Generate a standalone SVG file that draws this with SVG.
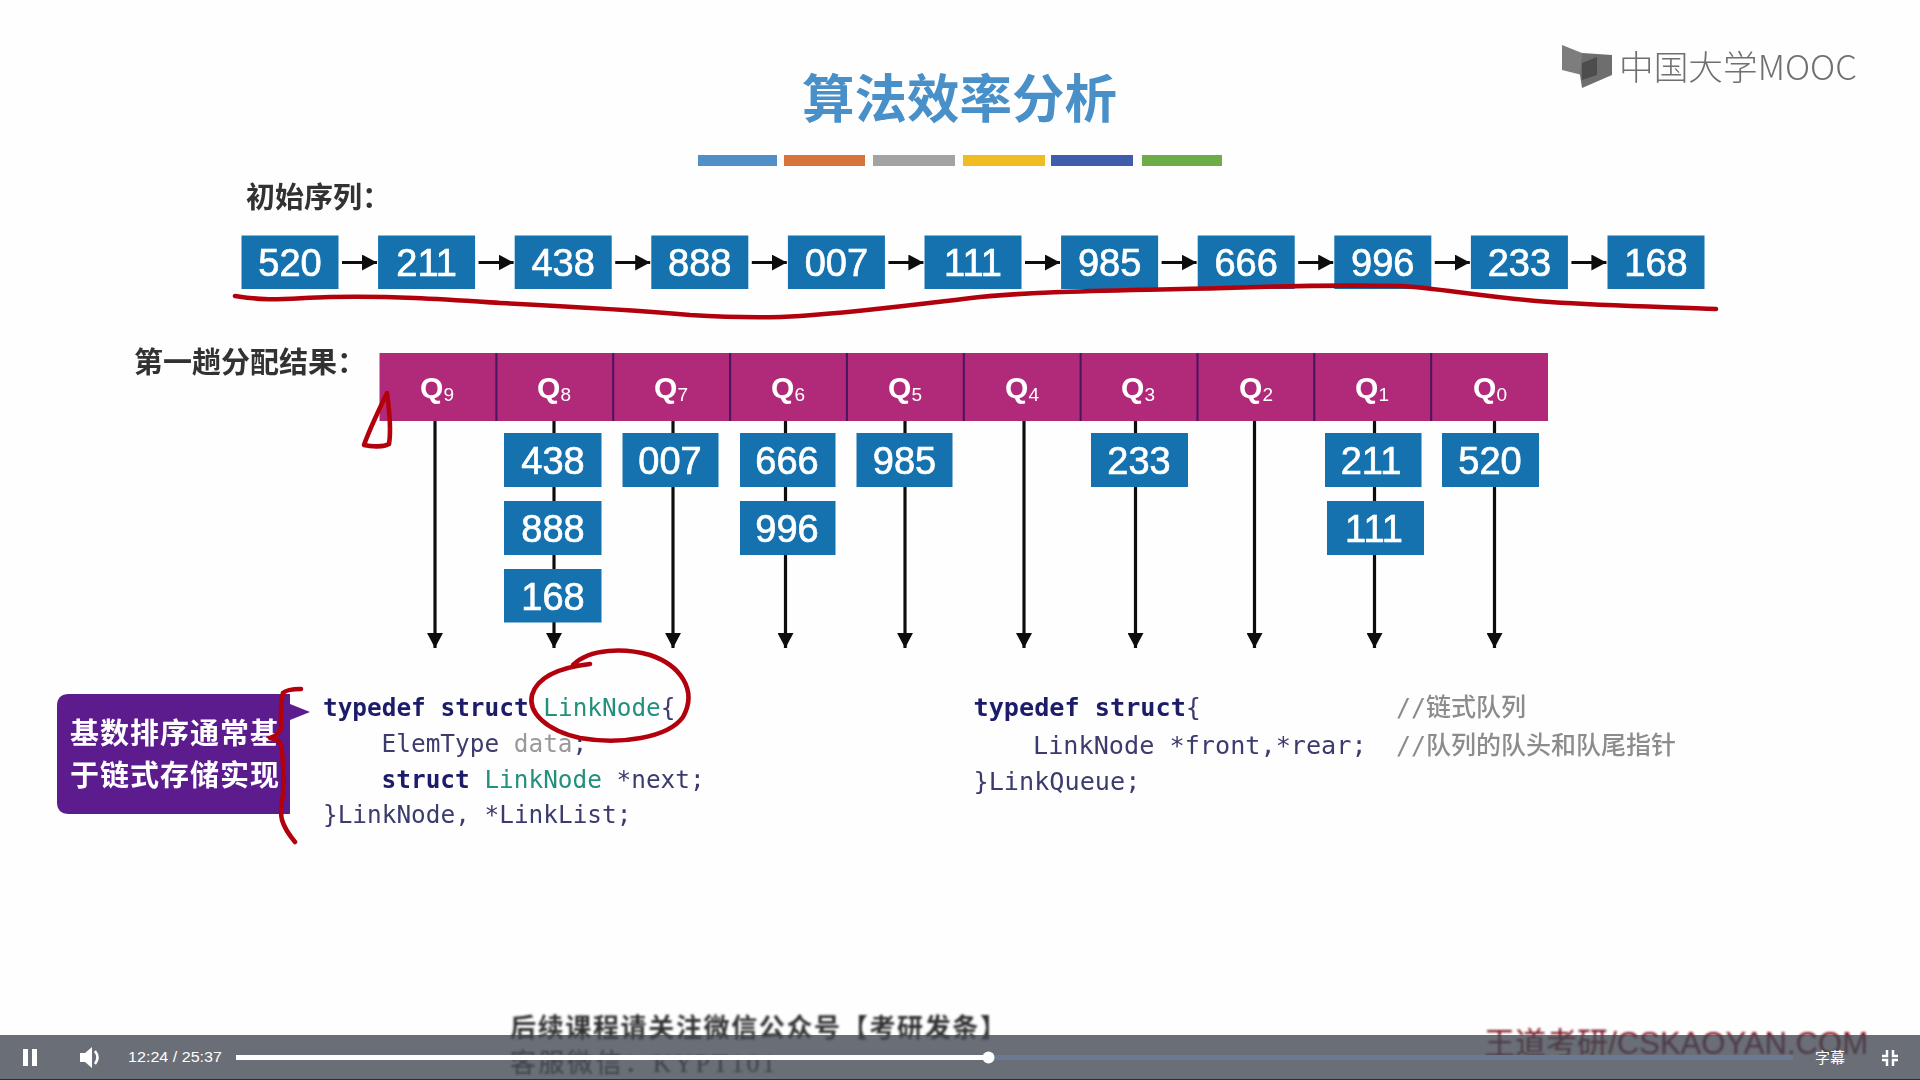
<svg xmlns="http://www.w3.org/2000/svg" width="1920" height="1080" viewBox="0 0 1920 1080">
<style>
.b{fill:#1272ae}
.bt{font:38px "Liberation Sans",Arial,sans-serif;fill:#fff;text-anchor:middle;stroke:#fff;stroke-width:.7}
.q{font:bold 30px "Liberation Sans",Arial,sans-serif;fill:#fff;text-anchor:middle}
.q tspan{font-size:19px;font-weight:normal}
.lab{font:bold 29px "Noto Sans CJK SC",sans-serif;fill:#333}
.code{font:24.4px "DejaVu Sans Mono","Noto Sans CJK SC",monospace;fill:#3b3b6e;font-weight:500}
.wide{font-size:25.200px}
.kw{font-weight:bold;fill:#1b1b6b}
.ty{fill:#22907c}
.cm{fill:#8c8c8c;font-size:25px}
.call{font:bold 29px "Noto Sans CJK SC",sans-serif;fill:#fff}
.c{stroke:#111;stroke-width:3.2;fill:none}
.ca{marker-end:url(#ah)}
.sa{marker-end:url(#sh)}
.red{fill:none;stroke:#b3000f;stroke-width:4.600;stroke-linecap:round;stroke-linejoin:round}
.ui{fill:#fff;font-family:"Liberation Sans",Arial,sans-serif}
</style>
<defs>
<filter id="bl" x="-2%" y="-2%" width="104%" height="104%"><feGaussianBlur stdDeviation="0.75"/></filter>
<filter id="bl2" x="-5%" y="-30%" width="110%" height="160%"><feGaussianBlur stdDeviation="0.9"/></filter>
<marker id="ah" markerUnits="userSpaceOnUse" markerWidth="16" markerHeight="16" refX="15" refY="8" orient="auto"><path d="M0 0L15 8L0 16Z" fill="#111"/></marker>
<marker id="sh" markerUnits="userSpaceOnUse" markerWidth="16" markerHeight="16" refX="15" refY="8" orient="auto"><path d="M0 0L15 8L0 16Z" fill="#111"/></marker>
</defs>
<rect width="1920" height="1080" fill="#fefefe"/>
<g filter="url(#bl)">
<text id="title" x="959.500" y="118" text-anchor="middle" style="font:bold 52.500px 'Noto Sans CJK SC',sans-serif;fill:#4a90c9">算法效率分析</text>
<g id="title-bars">
<rect x="698" y="155" width="79" height="11" fill="#5190c6"/>
<rect x="784" y="155" width="81" height="11" fill="#d5743a"/>
<rect x="873" y="155" width="82" height="11" fill="#a3a3a3"/>
<rect x="963" y="155" width="82" height="11" fill="#efbd22"/>
<rect x="1051" y="155" width="82" height="11" fill="#3f5dab"/>
<rect x="1142" y="155" width="80" height="11" fill="#6dac47"/>
</g>
<g id="logo">
<path d="M1562 45L1582 53V75L1562 70Z" fill="#7d7d7d"/>
<path d="M1582 53L1612 55V75L1582 88L1580 75Z" fill="#6e6e6e"/>
<path d="M1582 63L1597 57V75L1582 80Z" fill="#4d4d4d"/>
<text x="1619" y="80" style="font:300 34px 'Noto Sans CJK SC',sans-serif;fill:#707070" textLength="238" lengthAdjust="spacingAndGlyphs">中国大学MOOC</text>
</g>
<text id="label-initial" class="lab" x="246" y="208">初始序列：</text>
<text id="label-first" class="lab" x="134" y="373">第一趟分配结果：</text>

<g id="connectors">
<path class="c sa" d="M342 262.500H377"/><path class="c sa" d="M478.600 262.500H513.600"/><path class="c sa" d="M615.200 262.500H650.200"/><path class="c sa" d="M751.800 262.500H786.800"/><path class="c sa" d="M888.400 262.500H923.400"/><path class="c sa" d="M1025 262.500H1060"/><path class="c sa" d="M1161.600 262.500H1196.600"/><path class="c sa" d="M1298.200 262.500H1333.200"/><path class="c sa" d="M1434.800 262.500H1469.800"/><path class="c sa" d="M1571.400 262.500H1606.400"/>
<path class="c ca" d="M435 421V648"/><path class="c ca" d="M554 421V648"/><path class="c ca" d="M673 421V648"/><path class="c ca" d="M785.500 421V648"/><path class="c ca" d="M905 421V648"/><path class="c ca" d="M1024 421V648"/><path class="c ca" d="M1135.500 421V648"/><path class="c ca" d="M1254.500 421V648"/><path class="c ca" d="M1374.500 421V648"/><path class="c ca" d="M1494.500 421V648"/>
</g>

<g id="sequence">
<g id="s520"><rect class="b" x="241.500" y="235.500" width="97" height="53.500"/><text class="bt" x="290" y="276">520</text></g>
<g id="s211"><rect class="b" x="378.100" y="235.500" width="97" height="53.500"/><text class="bt" x="426.600" y="276">211</text></g>
<g id="s438"><rect class="b" x="514.700" y="235.500" width="97" height="53.500"/><text class="bt" x="563.200" y="276">438</text></g>
<g id="s888"><rect class="b" x="651.300" y="235.500" width="97" height="53.500"/><text class="bt" x="699.800" y="276">888</text></g>
<g id="s007"><rect class="b" x="787.900" y="235.500" width="97" height="53.500"/><text class="bt" x="836.400" y="276">007</text></g>
<g id="s111"><rect class="b" x="924.500" y="235.500" width="97" height="53.500"/><text class="bt" x="973" y="276">111</text></g>
<g id="s985"><rect class="b" x="1061.100" y="235.500" width="97" height="53.500"/><text class="bt" x="1109.600" y="276">985</text></g>
<g id="s666"><rect class="b" x="1197.700" y="235.500" width="97" height="53.500"/><text class="bt" x="1246.200" y="276">666</text></g>
<g id="s996"><rect class="b" x="1334.300" y="235.500" width="97" height="53.500"/><text class="bt" x="1382.800" y="276">996</text></g>
<g id="s233"><rect class="b" x="1470.900" y="235.500" width="97" height="53.500"/><text class="bt" x="1519.400" y="276">233</text></g>
<g id="s168"><rect class="b" x="1607.500" y="235.500" width="97" height="53.500"/><text class="bt" x="1656" y="276">168</text></g>
</g>

<g id="queues">
<rect x="379.500" y="353" width="1168.500" height="68" fill="#b02b79"/>
<path d="M496.400 353v68M613.200 353v68M730.100 353v68M846.900 353v68M963.800 353v68M1080.600 353v68M1197.500 353v68M1314.300 353v68M1431.200 353v68" stroke="#47125f" stroke-width="2" fill="none"/>
<g id="q9"><text class="q" x="437" y="398">Q<tspan dy="3">9</tspan></text></g>
<g id="q8"><text class="q" x="554" y="398">Q<tspan dy="3">8</tspan></text></g>
<g id="q7"><text class="q" x="671" y="398">Q<tspan dy="3">7</tspan></text></g>
<g id="q6"><text class="q" x="788" y="398">Q<tspan dy="3">6</tspan></text></g>
<g id="q5"><text class="q" x="905" y="398">Q<tspan dy="3">5</tspan></text></g>
<g id="q4"><text class="q" x="1022" y="398">Q<tspan dy="3">4</tspan></text></g>
<g id="q3"><text class="q" x="1138" y="398">Q<tspan dy="3">3</tspan></text></g>
<g id="q2"><text class="q" x="1256" y="398">Q<tspan dy="3">2</tspan></text></g>
<g id="q1"><text class="q" x="1372" y="398">Q<tspan dy="3">1</tspan></text></g>
<g id="q0"><text class="q" x="1490" y="398">Q<tspan dy="3">0</tspan></text></g>
</g>

<g id="buckets">
<g id="b438"><rect class="b" x="504" y="433" width="97.500" height="54"/><text class="bt" x="553" y="474">438</text></g>
<g id="b888"><rect class="b" x="504" y="501" width="97.500" height="54"/><text class="bt" x="553" y="542">888</text></g>
<g id="b168"><rect class="b" x="504" y="569" width="97.500" height="53.500"/><text class="bt" x="553" y="610">168</text></g>
<g id="b007"><rect class="b" x="622.500" y="433" width="96" height="54"/><text class="bt" x="670" y="474">007</text></g>
<g id="b666"><rect class="b" x="740" y="433" width="95.500" height="54"/><text class="bt" x="787" y="474">666</text></g>
<g id="b996"><rect class="b" x="740" y="501" width="95.500" height="54"/><text class="bt" x="787" y="542">996</text></g>
<g id="b985"><rect class="b" x="856.500" y="433" width="96" height="54"/><text class="bt" x="904.500" y="474">985</text></g>
<g id="b233"><rect class="b" x="1091" y="433" width="97" height="54"/><text class="bt" x="1139" y="474">233</text></g>
<g id="b211"><rect class="b" x="1325" y="433" width="96.500" height="54"/><text class="bt" x="1371" y="474">211</text></g>
<g id="b111"><rect class="b" x="1327" y="501" width="97" height="54"/><text class="bt" x="1374" y="542">111</text></g>
<g id="b520"><rect class="b" x="1442" y="433" width="97" height="54"/><text class="bt" x="1490" y="474">520</text></g>
</g>

<g id="callout">
<path d="M69 694H290V704L310 712L290 720V814H69Q57 814 57 802V706Q57 694 69 694Z" fill="#5c1a8e"/>
<text class="call" x="70" y="744" textLength="209">基数排序通常基</text>
<text class="call" x="70" y="786" textLength="209">于链式存储实现</text>
</g>

<g id="code-left">
<text class="code" x="323" y="716"><tspan class="kw">typedef struct</tspan> <tspan class="ty">LinkNode</tspan>{</text>
<text class="code" x="381.600" y="752">ElemType <tspan fill="#999">data</tspan>;</text>
<text class="code" x="381.600" y="788"><tspan class="kw">struct</tspan> <tspan class="ty">LinkNode</tspan> *next;</text>
<text class="code" x="323" y="823">}LinkNode, *LinkList;</text>
</g>
<g id="code-right">
<text class="code wide" x="973.500" y="716"><tspan class="kw">typedef struct</tspan>{</text>
<text class="code wide" x="1033" y="754">LinkNode *front,*rear;</text>
<text class="code wide" x="973.500" y="790">}LinkQueue;</text>
<text class="code cm" x="1396" y="716">//链式队列</text>
<text class="code cm" x="1396" y="754">//队列的队头和队尾指针</text>
</g>

<g id="annotations">
<path class="red" d="M235 296C270 302 290 298 330 297C400 296 440 299 500 303C560 306 620 309 690 315C740 318 770 318 800 316C860 312 920 304 980 297C1040 291 1110 291 1225 288C1280 286 1340 285 1400 286C1440 288 1480 297 1550 302C1610 306 1670 307 1716 309"/>
<path class="red" d="M387 393C378 412 370 428 364 445C372 447 384 447 389 444C391 432 390 415 387 393Z"/>
<path class="red" d="M573 665C590 648 625 648 650 655C680 665 698 690 683 717C668 738 620 745 580 738C545 730 528 712 532 695C537 678 555 668 590 664"/>
<path class="red" d="M301 689C292 689 286 690 283 693C280 705 281 718 281 728C280 733 276 736 270 738C276 739 280 741 281 745C284 765 284 780 283 795C281 805 280 812 282 820C285 830 290 836 295 842"/>
</g>
</g>

<g filter="url(#bl2)">
<text id="note1" x="510" y="1037" style="font:bold 26px 'Liberation Serif','Noto Sans CJK SC',serif;fill:#333" textLength="496">后续课程请关注微信公众号【考研发条】</text>
<text id="note2" x="510" y="1072" style="font:26px 'Liberation Serif','Noto Sans CJK SC',serif;fill:#333" textLength="265">客服微信：KYPT101</text>
<text id="mark" x="1484" y="1054" style="font:31px 'Liberation Sans','Noto Sans CJK SC',sans-serif;fill:#7a1622" textLength="384" lengthAdjust="spacingAndGlyphs">王道考研/CSKAOYAN.COM</text>
</g>

<g id="player">
<rect y="1035" width="1920" height="45" fill="#40454f" fill-opacity=".78"/>
<rect y="1079" width="1920" height="1" fill="#2b2e33"/>
<rect x="236" y="1055" width="1557" height="5" fill="#6b7a92"/>
<rect x="236" y="1055" width="752" height="5" fill="#fff"/>
<circle cx="988.500" cy="1057.500" r="6" fill="#fff"/>
<path class="ui" d="M23 1049h5v17h-5zM32 1049h5v17h-5z"/>
<path class="ui" d="M80 1053h5l7-6v21l-7-6h-5z"/>
<path d="M95 1051q5 6.500 0 13" fill="none" stroke="#fff" stroke-width="2.500"/>
<text class="ui" x="128" y="1062" font-size="14.500" textLength="94" lengthAdjust="spacingAndGlyphs">12:24 / 25:37</text>
<text x="1815" y="1063" style="font:15px 'Noto Sans CJK SC',sans-serif;fill:#fff">字幕</text>
<path d="M1887 1050v6h-5M1893 1050v6h5M1887 1066v-6h-5M1893 1066v-6h5" fill="none" stroke="#fff" stroke-width="2.500"/>
</g>
</svg>
